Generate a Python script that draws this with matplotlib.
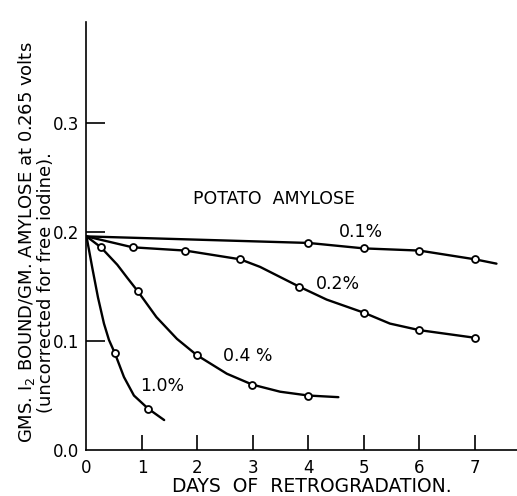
import matplotlib
matplotlib.use("Agg")
import matplotlib.pyplot as plt

plt.rcParams['font.family'] = ['DejaVu Sans']

# ---- data ----
# measured points (open circles)
pts_01_x = [4, 5, 6, 7]
pts_01_y = [0.190, 0.185, 0.183, 0.175]
pts_02_x = [0.83, 1.78, 2.77, 3.83, 5, 6, 7]
pts_02_y = [0.186, 0.183, 0.175, 0.150, 0.126, 0.110, 0.103]
pts_04_x = [0.26, 0.92, 1.99, 2.99, 4.0]
pts_04_y = [0.186, 0.146, 0.087, 0.060, 0.050]
pts_10_x = [0.51, 1.11]
pts_10_y = [0.089, 0.038]

# hand-drawn curve traces
cur_01_x = [0, 4, 5, 6, 7, 7.39]
cur_01_y = [0.196, 0.190, 0.185, 0.183, 0.175, 0.171]
cur_02_x = [0, 0.83, 1.78, 2.77, 3.13, 3.83, 4.33, 5, 5.47, 6, 7]
cur_02_y = [0.196, 0.186, 0.183, 0.175, 0.168, 0.150, 0.138, 0.126, 0.116, 0.110, 0.103]
cur_04_x = [0, 0.26, 0.555, 0.735, 0.92, 1.26, 1.63, 1.99, 2.53, 2.99, 3.49, 4.0, 4.54]
cur_04_y = [0.196, 0.186, 0.170, 0.158, 0.146, 0.122, 0.102, 0.087, 0.070, 0.060, 0.0535, 0.050, 0.0485]
cur_10_x = [0, 0.105, 0.207, 0.315, 0.405, 0.51, 0.675, 0.855, 1.11, 1.40]
cur_10_y = [0.196, 0.167, 0.140, 0.116, 0.101, 0.089, 0.067, 0.050, 0.038, 0.0275]

x_ticks = [1, 2, 3, 4, 5, 6, 7]
y_ticks = [0.1, 0.2, 0.3]

fig = plt.figure(figsize=(5.17, 4.96), dpi=100)
ax = fig.add_axes([0.1673, 0.0927, 0.8327, 0.8629])
ax.set_xlim(0, 7.76)
ax.set_ylim(0, 0.3927)

for cx, cy in [(cur_01_x, cur_01_y), (cur_02_x, cur_02_y),
               (cur_04_x, cur_04_y), (cur_10_x, cur_10_y)]:
    ax.plot(cx, cy, color='black', lw=1.7, solid_capstyle='round',
            solid_joinstyle='round', zorder=2)

for px, py in [(pts_01_x, pts_01_y), (pts_02_x, pts_02_y),
               (pts_04_x, pts_04_y), (pts_10_x, pts_10_y)]:
    ax.plot(px, py, linestyle='none', marker='o', ms=5, mfc='white',
            mec='black', mew=1.3, zorder=3)

for s in ['top', 'right']:
    ax.spines[s].set_visible(False)
for s in ['left', 'bottom']:
    ax.spines[s].set_linewidth(1.2)

ax.set_xticks([0] + x_ticks)
ax.set_xticklabels(['0'] + [str(v) for v in x_ticks])
ax.set_yticks([0.0] + y_ticks)
ax.set_yticklabels(['0.0'] + ['%.1f' % v for v in y_ticks])
ax.tick_params(axis='x', direction='in', length=11, width=1.2, pad=6.5, labelsize=12)
ax.tick_params(axis='y', direction='in', length=14, width=1.2, pad=5, labelsize=12)
ax.xaxis.get_major_ticks()[0].tick1line.set_visible(False)
ax.yaxis.get_major_ticks()[0].tick1line.set_visible(False)

ax.text(3.38, 0.230, 'POTATO  AMYLOSE', fontsize=12.5, ha='center', va='center')
ax.text(4.95, 0.200, '0.1%', fontsize=12.5, ha='center', va='center')
ax.text(4.53, 0.152, '0.2%', fontsize=12.5, ha='center', va='center')
ax.text(2.91, 0.086, '0.4 %', fontsize=12.5, ha='center', va='center')
ax.text(1.37, 0.0587, '1.0%', fontsize=12.5, ha='center', va='center')

fig.text(312 / 517, 1 - 487 / 496, 'DAYS  OF  RETROGRADATION.', fontsize=13.5,
         ha='center', va='center')
fig.text(27 / 517, 1 - 242 / 496, r'GMS. I$_2$ BOUND/GM. AMYLOSE at 0.265 volts',
         fontsize=13, rotation=90, ha='center', va='center')
fig.text(46 / 517, 1 - 283 / 496, '(uncorrected for free iodine).',
         fontsize=13, rotation=90, ha='center', va='center')

fig.savefig('out.png', dpi=100)
